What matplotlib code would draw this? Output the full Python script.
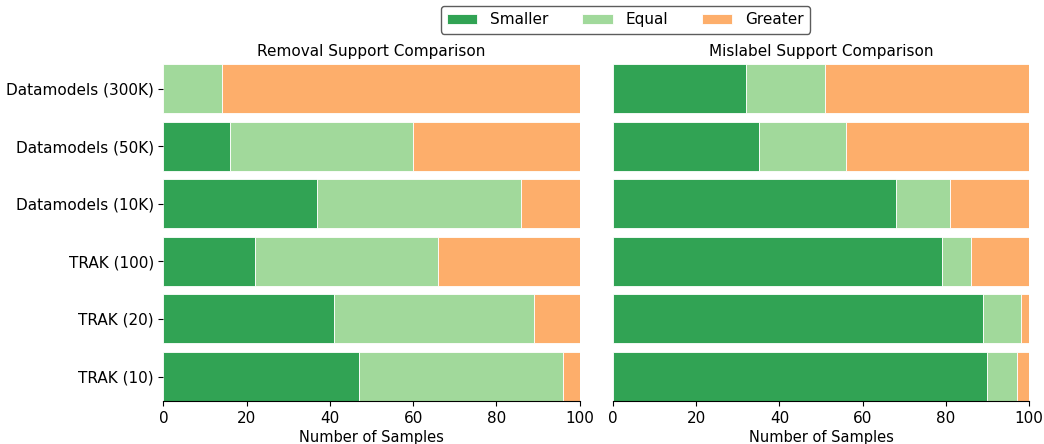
import matplotlib
matplotlib.use("Agg")
import matplotlib.pyplot as plt
import numpy as np

methods = ["Datamodels (300K)", "Datamodels (50K)", "Datamodels (10K)",
           "TRAK (100)", "TRAK (20)", "TRAK (10)"]
categories = ["Smaller", "Equal", "Greater"]

removal_smaller = [0, 16, 37, 22, 41, 47]
removal_equal = [14, 44, 49, 44, 48, 49]
removal_greater = [86, 40, 14, 34, 11, 4]

mislabel_smaller = [32, 35, 68, 79, 89, 90]
mislabel_equal = [19, 21, 13, 7, 9, 7]
mislabel_greater = [49, 44, 19, 14, 2, 3]

colors = ["#31a354", "#a1d99b", "#fdae6b"]

fig = plt.figure(figsize=(10.44, 4.44), dpi=100)
ax1 = fig.add_axes([0.1566, 0.0968, 0.3985, 0.759])
ax2 = fig.add_axes([0.5872, 0.0968, 0.3985, 0.759])

y = np.arange(len(methods))
h = 0.85


def stacked(ax, series, title):
    left = np.zeros(len(methods))
    handles = []
    for vals, c, lab in zip(series, colors, categories):
        b = ax.barh(y, vals, left=left, height=h, color=c,
                    edgecolor="white", linewidth=0.6, label=lab)
        handles.append(b)
        left += np.array(vals)
    ax.set_xlim(0, 100)
    ax.set_ylim(len(methods) - 1 + h / 2, -h / 2)
    ax.set_title(title, fontsize=11)
    ax.set_xlabel("Number of Samples", fontsize=10.5, labelpad=3)
    ax.set_xticks([0, 20, 40, 60, 80, 100])
    ax.tick_params(axis="x", labelsize=11)
    for s in ("top", "right", "left"):
        ax.spines[s].set_visible(False)
    return handles


handles = stacked(ax1, [removal_smaller, removal_equal, removal_greater],
                  "Removal Support Comparison")
stacked(ax2, [mislabel_smaller, mislabel_equal, mislabel_greater],
        "Mislabel Support Comparison")

ax1.set_yticks(y)
ax1.set_yticklabels(methods, fontsize=11)
ax2.set_yticks([])

fig.legend(handles, categories, loc="upper center", ncol=3,
           bbox_to_anchor=(0.599, 1.003), fontsize=11, frameon=True,
           edgecolor="#333333", columnspacing=2.2, handlelength=2.0,
           handletextpad=0.85)

fig.savefig("out.png", dpi=100)
